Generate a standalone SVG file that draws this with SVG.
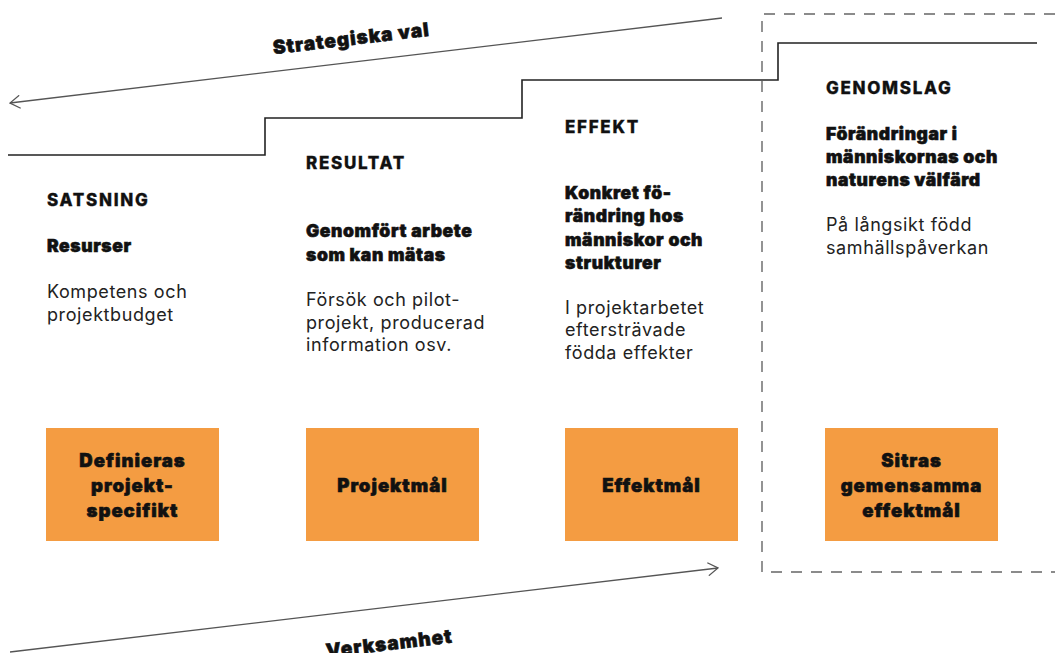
<svg xmlns="http://www.w3.org/2000/svg" width="1055" height="653" viewBox="0 0 1055 653">
<style>
.head{font-family:Inter,"Liberation Sans",sans-serif;font-weight:800;font-size:17px;letter-spacing:1.7px;fill:#111;stroke:#111;stroke-width:0.3}
.sub{font-family:Inter,"Liberation Sans",sans-serif;font-weight:900;font-size:17.5px;letter-spacing:0.6px;fill:#111;stroke:#111;stroke-width:0.6}
.body{font-family:Inter,"Liberation Sans",sans-serif;font-weight:400;font-size:18px;letter-spacing:0.6px;fill:#222}
.box{fill:#F49C42}
.bt{font-family:Inter,"Liberation Sans",sans-serif;font-weight:900;font-size:18.5px;letter-spacing:1px;fill:#111;stroke:#111;stroke-width:0.6;text-anchor:middle}
.lbl{font-family:Inter,"Liberation Sans",sans-serif;font-weight:900;font-size:19px;letter-spacing:1px;fill:#111;stroke:#111;stroke-width:0.6;text-anchor:middle}
.arr{fill:none;stroke:#555;stroke-width:1.3}
.step{fill:none;stroke:#222;stroke-width:1.6}
.dash{fill:none;stroke:#666;stroke-width:1.4;stroke-dasharray:11 9}
</style>
<defs>
<marker id="chev" viewBox="0 0 12 14" refX="11" refY="7" markerWidth="12" markerHeight="14" markerUnits="userSpaceOnUse" orient="auto">
<path d="M1,0.5 L11,7 L1,13.5" fill="none" stroke="#555" stroke-width="1.3"/>
</marker>
</defs>
<g id="connectors">
<path class="step" d="M8,155 H265 V118 H522 V80 H778 V43 H1037"/>
<path class="dash" d="M1055,14 H762 V572 H1055"/>
<line class="arr" x1="722" y1="18" x2="10" y2="103" marker-end="url(#chev)"/>
<line class="arr" x1="10" y1="652" x2="718" y2="568" marker-end="url(#chev)"/>
<text class="lbl" transform="translate(352,45) rotate(-6.8)">Strategiska val</text>
<text class="lbl" transform="translate(390,650) rotate(-6.8)">Verksamhet</text>
</g>
<g id="satsning">
<text class="head" x="47" y="206">SATSNING</text>
<text class="sub" x="47" y="252">Resurser</text>
<text class="body" x="47" y="298">Kompetens och</text>
<text class="body" x="47" y="321">projektbudget</text>
</g>
<g id="resultat">
<text class="head" x="306" y="169">RESULTAT</text>
<text class="sub" x="306" y="237">Genomfört arbete</text>
<text class="sub" x="306" y="261">som kan mätas</text>
<text class="body" x="306" y="306">Försök och pilot-</text>
<text class="body" x="306" y="329">projekt, producerad</text>
<text class="body" x="306" y="351">information osv.</text>
</g>
<g id="effekt">
<text class="head" x="565" y="133">EFFEKT</text>
<text class="sub" x="565" y="199">Konkret fö-</text>
<text class="sub" x="565" y="222">rändring hos</text>
<text class="sub" x="565" y="246">människor och</text>
<text class="sub" x="565" y="269">strukturer</text>
<text class="body" x="565" y="314">I projektarbetet</text>
<text class="body" x="565" y="336">eftersträvade</text>
<text class="body" x="565" y="359">födda effekter</text>
</g>
<g id="genomslag">
<text class="head" x="826" y="94">GENOMSLAG</text>
<text class="sub" x="826" y="140">Förändringar i</text>
<text class="sub" x="826" y="163">människornas och</text>
<text class="sub" x="826" y="186">naturens välfärd</text>
<text class="body" x="826" y="231">På långsikt född</text>
<text class="body" x="826" y="254">samhällspåverkan</text>
</g>
<g id="box1">
<rect class="box" x="46" y="428" width="173" height="113"/>
<text class="bt" x="132.5" y="467">Definieras</text>
<text class="bt" x="132.5" y="492">projekt-</text>
<text class="bt" x="132.5" y="517">specifikt</text>
</g>
<g id="box2">
<rect class="box" x="306" y="428" width="173" height="113"/>
<text class="bt" x="392.5" y="492">Projektmål</text>
</g>
<g id="box3">
<rect class="box" x="565" y="428" width="173" height="113"/>
<text class="bt" x="651.5" y="492">Effektmål</text>
</g>
<g id="box4">
<rect class="box" x="825" y="428" width="173" height="113"/>
<text class="bt" x="911.5" y="467">Sitras</text>
<text class="bt" x="911.5" y="492">gemensamma</text>
<text class="bt" x="911.5" y="517">effektmål</text>
</g>
</svg>
